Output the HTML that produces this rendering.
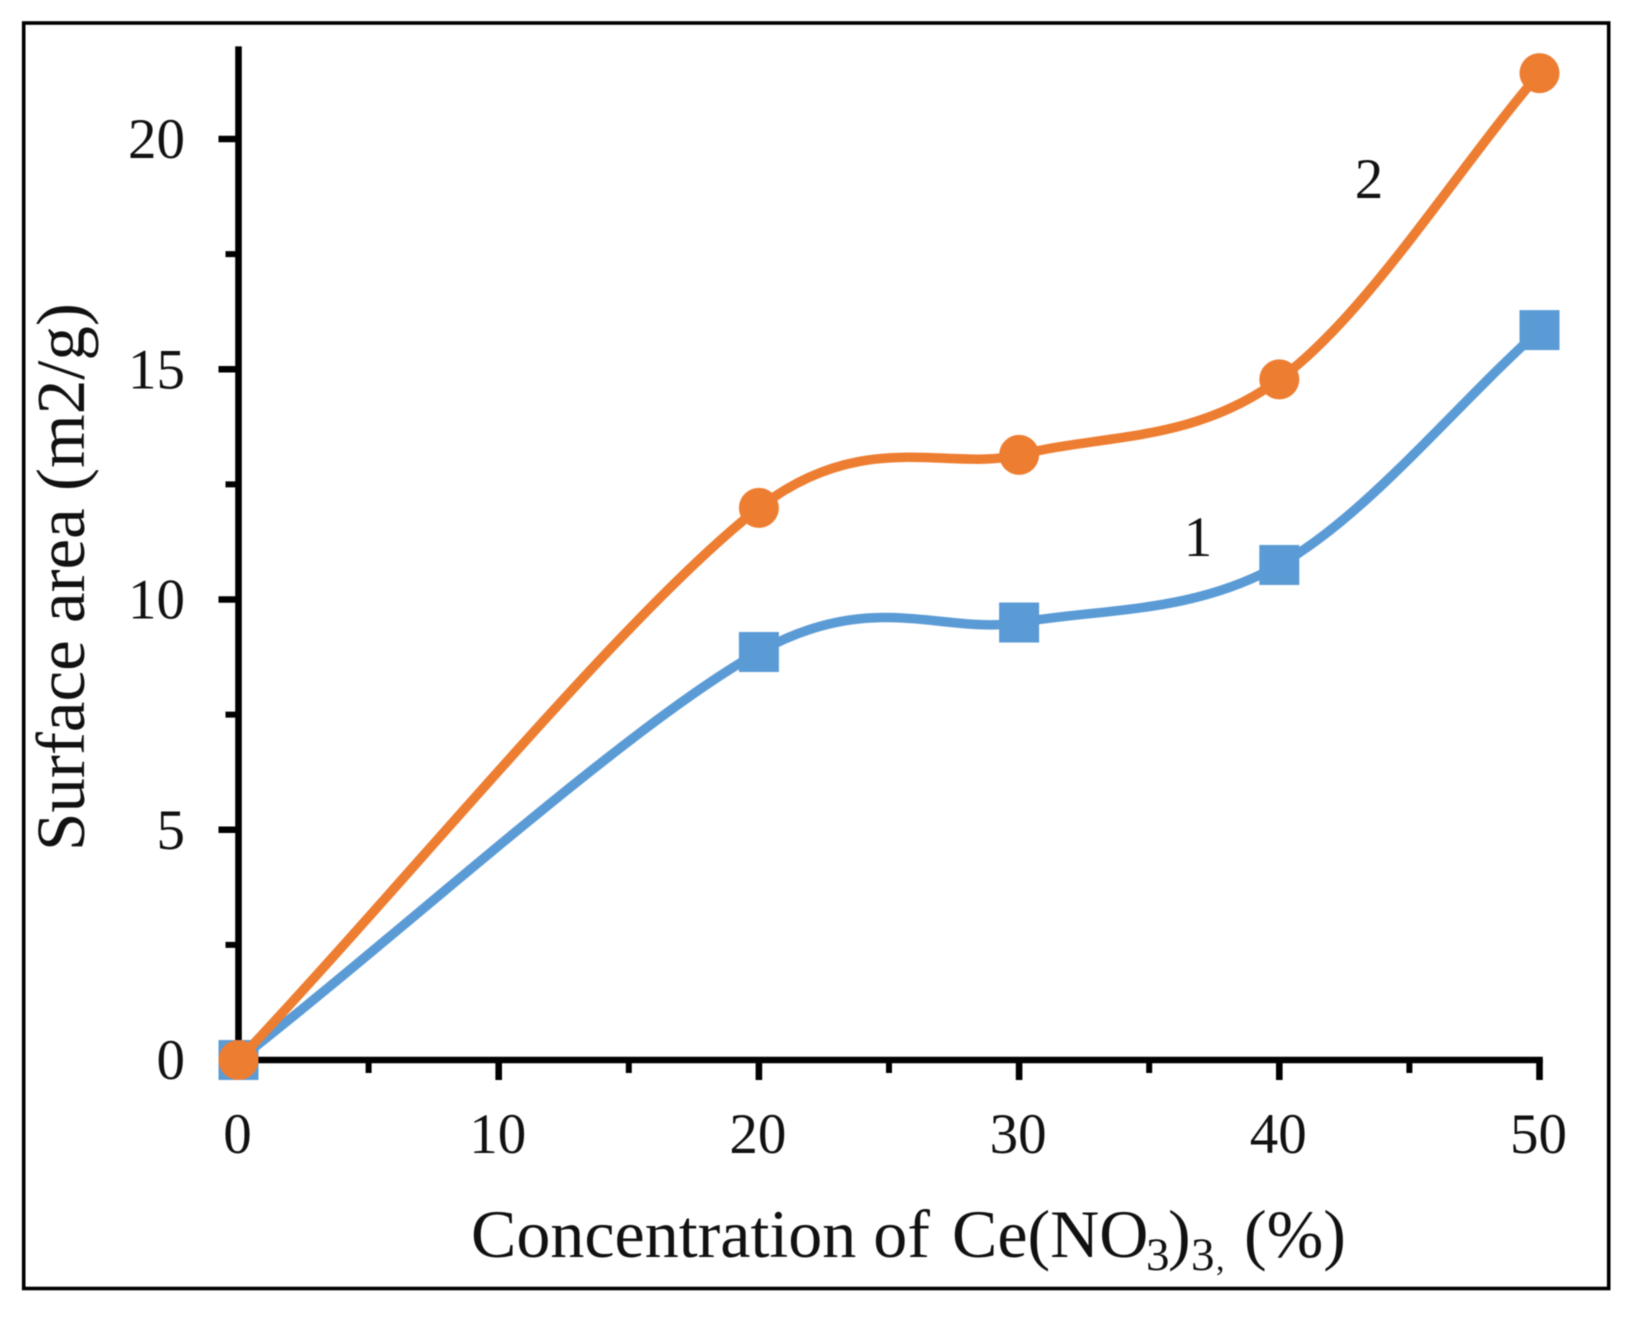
<!DOCTYPE html>
<html lang="en">
<head>
<meta charset="utf-8">
<title>Surface area vs concentration of Ce(NO3)3</title>
<style>
  html, body { margin: 0; padding: 0; background: #fff; }
  svg { display: block; filter: blur(0.5px); }
  text { font-family: "Liberation Serif", serif; fill: #111; }
</style>
</head>
<body>
<svg id="chart" xmlns="http://www.w3.org/2000/svg" width="1625" height="1317" viewBox="0 0 1625 1317">
  <rect x="0" y="0" width="1625" height="1317" fill="#fff"/>
  <rect x="23.7" y="23" width="1585" height="1265.5" fill="none" stroke="#000" stroke-width="3.6"/>
  <g id="axes"></g>
  <g id="series"></g>
  <text transform="translate(84,851) rotate(-90)" font-size="69">Surface area (m2/g)</text>
  <g>
    <text font-size="68" x="471" y="1257">Concentration of</text>
    <text font-size="68" x="952" y="1257">Ce(NO</text>
    <text font-size="47" x="1146" y="1270">3</text>
    <text font-size="68" x="1168" y="1257">)</text>
    <text font-size="47" x="1191" y="1270">3</text>
    <text font-size="34" x="1216" y="1270">,</text>
    <text font-size="68" x="1244" y="1257">(%)</text>
  </g>
  <text font-size="57" x="1198" y="556" text-anchor="middle">1</text>
  <text font-size="57" x="1369" y="198" text-anchor="middle">2</text>
</svg>
<script>
const categories = [0, 20, 30, 40, 50];
const series1Values = [0, 8.86, 9.5, 10.75, 15.85];
const series2Values = [0, 11.99, 13.14, 14.78, 21.43];
const xMajorTicks = [0, 10, 20, 30, 40, 50];
const xMinorTicks = [5, 15, 25, 35, 45];
const yMajorTicks = [0, 5, 10, 15, 20];
const yMinorTicks = [2.5, 7.5, 12.5, 17.5];
const yAxisMax = 22;

const NS = 'http://www.w3.org/2000/svg';
const X0 = 238.5, X_PER = 26.02, Y0 = 1060, Y_PER = 46.05;
function xScale(v) { return X0 + v * X_PER; }
function yScale(v) { return Y0 - v * Y_PER; }
function make(tag, attrs) {
  const el = document.createElementNS(NS, tag);
  Object.keys(attrs).forEach(function (k) { el.setAttribute(k, attrs[k]); });
  return el;
}
const axes = document.getElementById('axes');
const seriesGroup = document.getElementById('series');
const AXIS_W = 6.6;

const yAxisLine = make('line', { x1: xScale(0), x2: xScale(0), y1: yScale(yAxisMax) - 0.5, y2: Y0 + AXIS_W / 2, stroke: '#000', 'stroke-width': AXIS_W });


axes.appendChild(yAxisLine);

const xAxisLine = make('line', { x1: xScale(0), x2: xScale(50) + AXIS_W / 2, y1: Y0, y2: Y0, stroke: '#000', 'stroke-width': AXIS_W });


axes.appendChild(xAxisLine);

xMajorTicks.forEach(function (v) {
  const tick = make('line', { x1: xScale(v), x2: xScale(v), y1: Y0, y2: Y0 + 20, stroke: '#000', 'stroke-width': AXIS_W });
  
  
  axes.appendChild(tick);
  const label = make('text', { x: xScale(v) - 1, y: 1153, 'font-size': 57, 'text-anchor': 'middle' });
  label.textContent = String(v);
  
  
  axes.appendChild(label);
});
xMinorTicks.forEach(function (v) {
  const tick = make('line', { x1: xScale(v), x2: xScale(v), y1: Y0, y2: Y0 + 13, stroke: '#000', 'stroke-width': 6 });
  
  
  axes.appendChild(tick);
});
yMajorTicks.forEach(function (v) {
  const tick = make('line', { x1: xScale(0), x2: xScale(0) - 20, y1: yScale(v), y2: yScale(v), stroke: '#000', 'stroke-width': AXIS_W });
  
  
  axes.appendChild(tick);
  const label = make('text', { x: 185, y: yScale(v) + 19, 'font-size': 57, 'text-anchor': 'end' });
  label.textContent = String(v);
  
  
  axes.appendChild(label);
});
yMinorTicks.forEach(function (v) {
  const tick = make('line', { x1: xScale(0), x2: xScale(0) - 13, y1: yScale(v), y2: yScale(v), stroke: '#000', 'stroke-width': 6 });
  
  
  axes.appendChild(tick);
});

function dist(a, b) { return Math.hypot(a[0] - b[0], a[1] - b[1]); }
/* Spreadsheet-style smoothed line through the data points */
function smoothPath(pts) {
  const n = pts.length;
  let d = 'M' + pts[0][0] + ' ' + pts[0][1];
  for (let i = 0; i < n - 1; i++) {
    const p0 = i === 0 ? pts[0] : pts[i - 1];
    const p1 = pts[i];
    const p2 = pts[i + 1];
    const p3 = i === n - 2 ? pts[n - 1] : pts[i + 2];
    const d02 = dist(p0, p2), d12 = dist(p1, p2), d13 = dist(p1, p3);
    let a, b;
    if (d02 / 6 < d12 / 2 && d13 / 6 < d12 / 2) {
      a = i !== 0 ? 1 / 6 : 1 / 3;
      b = i !== n - 2 ? 1 / 6 : 1 / 3;
    } else if (d02 / 6 >= d12 / 2 && d13 / 6 >= d12 / 2) {
      a = d12 / 2 / d02;
      b = d12 / 2 / d13;
    } else if (d02 / 6 >= d12 / 2) {
      a = d12 / 2 / d02;
      b = d12 / 2 / d13 * (d13 / d02);
    } else {
      a = d12 / 2 / d02 * (d02 / d13);
      b = d12 / 2 / d13;
    }
    const c1 = [p1[0] + (p2[0] - p0[0]) * a, p1[1] + (p2[1] - p0[1]) * a];
    const c2 = [p2[0] - (p3[0] - p1[0]) * b, p2[1] - (p3[1] - p1[1]) * b];
    d += ' C' + c1[0].toFixed(2) + ' ' + c1[1].toFixed(2) + ' ' + c2[0].toFixed(2) + ' ' + c2[1].toFixed(2) + ' ' + p2[0].toFixed(2) + ' ' + p2[1].toFixed(2);
  }
  return d;
}
function toPoints(values) {
  return values.map(function (v, i) { return [xScale(categories[i]), yScale(v)]; });
}

const BLUE = '#5B9BD5', ORANGE = '#ED7D31';

const line1 = make('path', { d: smoothPath(toPoints(series1Values)), fill: 'none', stroke: BLUE, 'stroke-width': 9.5, 'stroke-linecap': 'round', 'stroke-linejoin': 'round' });


seriesGroup.appendChild(line1);
toPoints(series1Values).forEach(function (p) {
  const m = make('rect', { x: p[0] - 20, y: p[1] - 20, width: 40, height: 40, fill: BLUE });
  
  
  seriesGroup.appendChild(m);
});

const line2 = make('path', { d: smoothPath(toPoints(series2Values)), fill: 'none', stroke: ORANGE, 'stroke-width': 9.5, 'stroke-linecap': 'round', 'stroke-linejoin': 'round' });


seriesGroup.appendChild(line2);
toPoints(series2Values).forEach(function (p) {
  const m = make('circle', { cx: p[0], cy: p[1], r: 20, fill: ORANGE });
  
  
  seriesGroup.appendChild(m);
});
</script>
</body>
</html>
